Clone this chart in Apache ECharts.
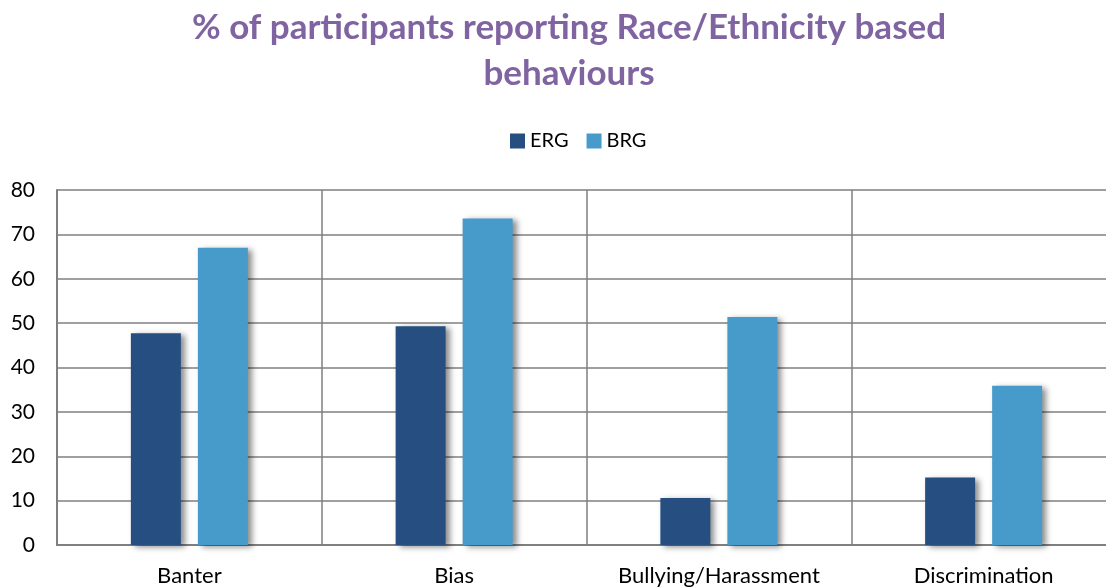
<!DOCTYPE html>
<html>
<head>
<meta charset="utf-8">
<script src="https://cdn.jsdelivr.net/npm/echarts@6/dist/echarts.min.js"></script>
<style>
  html, body { margin: 0; padding: 0; background: #fff; overflow: hidden; }
  #main { width: 1116px; height: 587px; }
</style>
</head>
<body>
<div id="main"></div>
<script>
// data
const categories = ['Banter', 'Bias', 'Bullying/Harassment', 'Discrimination']
const ergValues = [47.7, 49.3, 10.6, 15.2]
const brgValues = [67.0, 73.6, 51.4, 35.9]

const dom = document.getElementById('main')
const myChart = echarts.init(dom)

const barShadow = {
  shadowColor: 'rgba(0, 0, 0, 0.45)',
  shadowBlur: 6,
  shadowOffsetX: 4,
  shadowOffsetY: 2
}

const option = {
  textStyle: { fontFamily: 'Lato, "Open Sans", sans-serif' },
  title: {
    text: '% of participants reporting Race/Ethnicity based\nbehaviours',
    left: 564,
    top: 0,
    textAlign: 'center',
    textStyle: {
      color: '#8064A2',
      fontSize: 35,
      fontWeight: 'bold',
      lineHeight: 46
    }
  },
  legend: {
    data: ['ERG', 'BRG'],
    left: 505,
    top: 126,
    itemWidth: 15,
    itemHeight: 15,
    itemGap: 18,
    icon: 'rect',
    textStyle: { fontSize: 20, color: '#000' }
  },
  grid: {
    left: 57,
    right: 0,
    top: 190,
    bottom: 42
  },
  xAxis: {
    type: 'category',
    data: categories,
    axisLine: { lineStyle: { color: '#7f7f7f', width: 2 } },
    axisTick: { show: false },
    axisLabel: { interval: 0, fontSize: 22, color: '#000', margin: 20 },
    splitLine: { show: true, interval: 0, lineStyle: { color: '#7f7f7f', width: 1.5 } }
  },
  yAxis: {
    type: 'value',
    min: 0,
    max: 80,
    interval: 10,
    axisLine: { show: true, lineStyle: { color: '#7f7f7f', width: 2 } },
    axisTick: { show: false },
    axisLabel: { fontSize: 21, color: '#000', margin: 22 },
    splitLine: { lineStyle: { color: '#7f7f7f', width: 1.5 } }
  },
  series: [
    {
      name: 'ERG',
      type: 'bar',
      data: ergValues,
      barWidth: 50,
      barGap: '34%',
      itemStyle: Object.assign({ color: '#264E81' }, barShadow)
    },
    {
      name: 'BRG',
      type: 'bar',
      data: brgValues,
      barWidth: 50,
      barGap: '34%',
      itemStyle: Object.assign({ color: '#469BCB' }, barShadow)
    }
  ]
}

myChart.setOption(option)
</script>
</body>
</html>
